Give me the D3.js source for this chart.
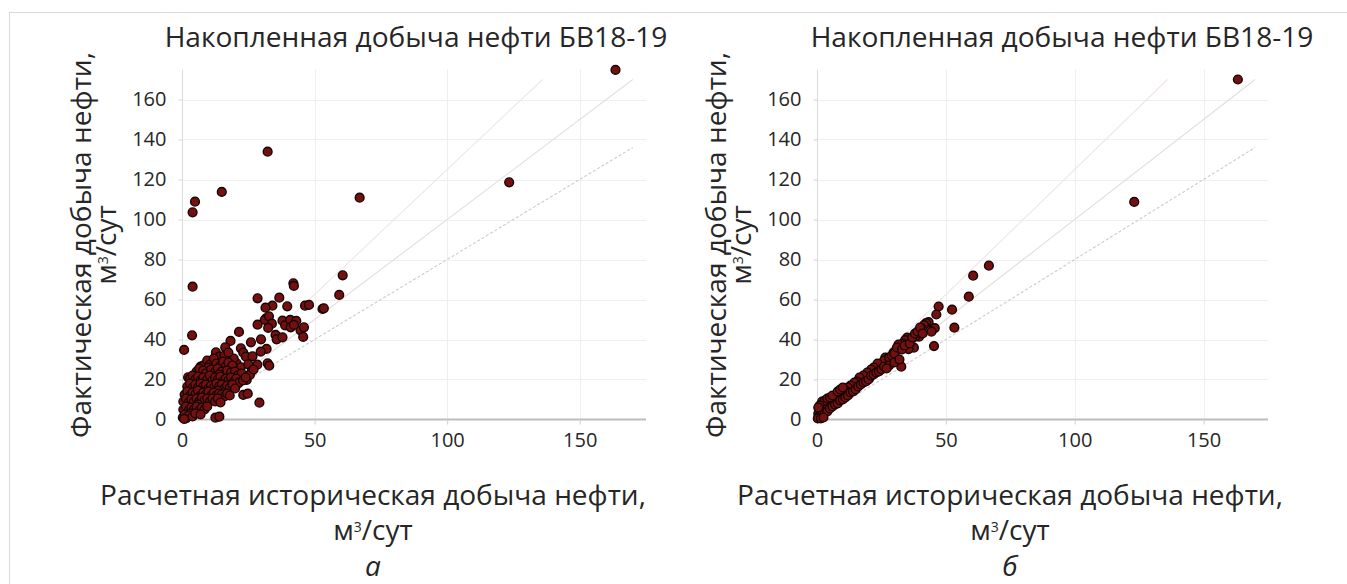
<!DOCTYPE html>
<html>
<head>
<meta charset="utf-8">
<script src="https://cdn.jsdelivr.net/npm/d3@7"></script>
<style>
  body { margin: 0; background: #fff; }
  svg { display: block; }
  text { font-family: "Open Sans", sans-serif; fill: #262626; }
</style>
</head>
<body>
<div id="chart"></div>
<script>
const titleText = "Накопленная добыча нефти БВ18-19";
const xLabelText = "Расчетная историческая добыча нефти,";
const yLabelText = "Фактическая добыча нефти,";
const panelLetters = ["а", "б"];
const xTicks = [0, 50, 100, 150];
const yTicks = [0, 20, 40, 60, 80, 100, 120, 140, 160];

// reference lines y = k*x, drawn from 0 up to endX
const refSlopes = [1.25, 1, 0.8];
const refEndX = [136, 170, 170];

// (a) calculated historical vs actual, m3/day
const wellsA = [
  [163.5,174.8],[123.4,118.6],[67.0,110.9],[32.3,133.9],[15.0,113.8],[4.9,108.9],[4.0,103.6],[4.0,66.4],
  [60.6,72.1],[59.3,62.3],[42.0,68.1],[42.2,66.8],[28.5,60.6],[36.7,60.9],[34.1,56.9],[31.5,55.9],
  [39.7,56.6],[46.4,56.9],[47.9,57.3],[53.0,55.3],[53.5,55.6],[31.7,50.6],[31.2,49.8],[32.8,51.6],
  [33.9,47.9],[28.5,47.4],[32.5,45.8],[37.9,49.4],[38.9,47.1],[40.8,49.8],[41.0,46.1],[43.1,49.3],
  [44.7,44.6],[46.0,46.1],[45.7,41.3],[42.2,47.3],[35.3,42.3],[35.7,40.1],[37.9,41.1],[3.8,42.1],
  [0.8,34.8],[21.5,43.8],[18.3,39.3],[16.3,36.1],[26.0,38.6],[29.8,40.1],[22.2,35.6],[31.9,35.3],
  [29.7,33.9],[12.8,33.6],[11.6,29.8],[14.1,31.4],[7.0,26.4],[8.0,26.9],[23.1,33.4],[24.1,31.4],
  [26.6,31.6],[28.4,27.4],[32.3,28.1],[32.9,26.9],[20.6,28.1],[22.2,26.1],[25.0,27.6],[26.3,24.3],
  [18.1,25.6],[19.2,22.8],[2.3,21.1],[29.2,8.4],[23.1,12.3],[24.8,12.9],[12.6,0.9],[14.1,1.4],
  [24.4,19.8],[21.2,18.1],[25.6,22.3],[27.0,25.0],[19.5,30.5],[16.0,32.0],[17.5,33.5],
  [9.5,29.5],[10.5,27.5],[12.0,30.5],[13.0,28.0],[14.5,27.0],[15.5,29.0],[16.5,26.5],[17.5,28.5],[19.0,27.0],[10.0,26.0],
  [5.5,24.0],[6.5,25.5],[8.0,24.5],[9.0,23.0],[11.0,25.0],[12.5,24.0],[13.5,25.5],[15.0,24.0],[16.0,22.5],[17.0,24.5],
  [18.5,23.5],[20.0,24.0],[21.0,22.0],[22.5,23.0],[14.0,22.5],
  [3.0,20.5],[4.0,22.0],[5.0,20.0],[6.0,21.5],[7.0,19.5],[8.0,21.0],[9.5,20.0],[10.5,22.0],[11.5,19.5],[12.5,21.0],
  [13.5,20.0],[14.5,21.5],[15.5,19.0],[16.5,20.5],[17.5,19.5],[18.5,21.0],[19.5,19.0],[20.5,20.5],[21.5,18.5],[23.0,19.5],[24.0,21.0],
  [2.0,16.5],[3.0,18.0],[4.0,16.0],[5.0,17.5],[6.0,16.0],[7.0,18.0],[8.0,16.5],[9.0,17.5],[10.0,15.5],[11.0,17.0],
  [12.0,16.0],[13.0,18.0],[14.0,16.5],[15.0,17.5],[16.0,15.5],[17.0,17.0],[18.0,16.0],[19.0,17.5],[20.0,15.5],[13.5,14.5],
  [1.0,12.5],[2.0,14.0],[3.0,12.0],[4.0,13.5],[5.0,12.5],[6.0,14.5],[7.0,12.0],[8.0,13.5],[9.0,12.5],[10.0,14.0],
  [11.0,12.0],[12.0,13.5],[13.0,12.0],[14.0,13.0],[15.0,12.5],[16.0,11.5],[17.0,13.0],[18.0,12.0],
  [0.5,9.0],[1.5,10.5],[2.5,8.5],[3.5,10.0],[4.5,9.0],[5.5,10.5],[6.5,9.0],[7.5,11.0],[8.5,9.5],[9.5,10.5],
  [10.5,9.0],[11.5,10.5],[12.5,9.0],[13.5,10.5],[14.5,8.5],[6.0,7.5],
  [0.5,5.0],[1.5,6.5],[2.5,4.5],[3.5,6.0],[4.5,5.0],[5.5,6.5],[6.5,4.5],[7.5,6.0],[8.5,5.0],[9.5,6.5],[3.0,3.0],
  [0.3,1.0],[1.0,2.5],[1.5,0.5],[2.5,2.0],[4.0,1.5],[5.0,3.0],[7.0,2.5],[0.8,0.3]
];

// (b) after adaptation
const wellsB = [
  [163.3,170.0],[123.1,108.8],
  [66.7,76.9],[60.6,71.9],[58.9,61.4],[52.4,54.9],[53.3,45.9],[47.2,56.5],[46.3,52.5],[45.7,45.7],
  [44.4,43.9],[45.4,36.7],[43.3,48.7],[42.3,48.2],[41.5,47.2],[40.7,45.5],[39.6,41.4],[38.1,41.4],
  [36.8,40.5],[35.0,40.9],[34.2,39.7],[37.6,35.9],[35.5,35.2],[33.2,37.9],[31.6,37.5],[31.1,34.7],
  [29.7,33.4],[30.3,31.0],[29.0,29.7],[28.3,28.0],[32.7,26.4],[26.5,31.0],[25.8,28.4],[24.5,27.7],
  [23.2,26.7],[22.6,24.7],[21.3,23.9],[20.0,22.2],[18.7,21.0],[17.4,20.0],[16.1,18.9],[14.8,17.7],
  [13.5,16.4],[12.2,14.7],[10.9,13.0],[9.6,12.2],[8.3,11.4],[7.0,10.0],[5.7,8.9],[4.4,7.7],
  [3.1,6.4],[1.8,4.7],[0.5,3.0],
  [27.5,30.5],[26.0,29.5],[25.0,26.0],[24.0,25.5],[23.5,28.0],[22.0,26.0],[21.0,25.0],[20.5,21.0],
  [19.5,23.5],[19.0,20.0],[18.0,22.0],[17.5,19.0],[16.5,21.0],[16.0,17.5],[15.5,19.0],[15.0,16.5],
  [14.5,18.5],[14.0,15.0],[13.0,17.0],[12.5,13.5],[12.0,16.0],[11.5,12.5],[11.0,14.5],[10.5,11.5],
  [10.0,13.5],[9.5,10.5],[9.0,12.5],[8.5,9.5],[8.0,12.0],[7.5,9.0],[7.0,11.5],[6.5,8.0],
  [6.0,10.5],[5.5,7.0],[5.0,9.5],[4.5,6.0],[4.0,8.5],[3.5,5.0],[3.0,7.5],[2.5,4.0],
  [2.0,6.5],[1.5,3.0],[1.0,5.0],[0.5,1.0],[1.0,1.5],[2.0,2.5],[3.0,3.5],[4.0,4.0],
  [5.0,5.5],[6.0,6.5],[7.0,7.5],[8.0,8.0],[9.0,9.5],[10.0,10.0],[11.0,11.0],[12.0,12.0],
  [13.0,13.5],[14.0,14.0],[15.0,15.0],[16.0,16.5],[17.0,17.5],[18.0,18.5],[19.0,19.0],[20.0,20.0],
  [21.0,22.0],[22.0,22.5],[23.0,23.5],[24.0,24.0],[25.0,25.0],[26.0,26.5],[28.0,31.0],[29.0,32.0],
  [30.0,33.0],[31.0,36.0],[33.0,35.0],[34.0,37.0],[36.0,38.0],[37.0,41.0],[38.0,43.0],[39.0,44.0],
  [40.0,46.0],[41.0,43.0],[28.0,27.0],[30.0,28.5],[32.0,30.0],[27.0,25.5],
  [2.0,9.0],[3.0,9.5],[4.0,10.5],[5.0,11.0],[6.0,12.0],[8.0,14.0],[1.0,7.0],[0.5,6.0],[9.0,15.0],[10.0,16.0],
  [0.3,0.5],[1.5,0.5],[2.5,1.0]
];

const W = 1347, H = 584;
const svg = d3.select("#chart").append("svg").attr("width", W).attr("height", H);

// outer frame
svg.append("rect")
  .attr("x", 9.5).attr("y", 12.5)
  .attr("width", 1360).attr("height", 620)
  .attr("fill", "none").attr("stroke", "#d9d9d9");

const panels = [
  { data: wellsA, x0: 182, x1: 646, titleX: 416, labelX: 373, yLabX: 91 },
  { data: wellsB, x0: 817, x1: 1268, titleX: 1062, labelX: 1010, yLabX: 726 }
];

const yTop = 69.5, yBot = 419.5;
const fontSize = 26;

function fitWidth(sel, target) {
  const len = sel.node().getComputedTextLength();
  const fs = parseFloat(sel.attr("font-size"));
  sel.attr("font-size", fs * target / len);
}

// "м³/сут" with a small raised 3
function unitLabel(sel) {
  sel.append("tspan").text("м");
  sel.append("tspan").attr("font-size", "0.5em").attr("dy", "-0.55em").text("3");
  sel.append("tspan").attr("dy", "0.28em").text("/сут");
}

panels.forEach((p, i) => {
  const x = d3.scaleLinear().domain([0, 175]).range([p.x0, p.x1]);
  const y = d3.scaleLinear().domain([0, 175]).range([yBot, yTop]);
  const g = svg.append("g");

  // grid
  g.append("g").selectAll("line").data(yTicks.filter(d => d > 0)).join("line")
    .attr("x1", x(0)).attr("x2", x(175))
    .attr("y1", d => Math.round(y(d)) + 0.5).attr("y2", d => Math.round(y(d)) + 0.5)
    .attr("stroke", "#efefef");
  g.append("g").selectAll("line").data(xTicks.filter(d => d > 0)).join("line")
    .attr("x1", d => Math.round(x(d)) + 0.5).attr("x2", d => Math.round(x(d)) + 0.5)
    .attr("y1", y(0)).attr("y2", y(175))
    .attr("stroke", "#efefef");

  // axes
  const yAxis = g.append("g")
    .attr("transform", `translate(${Math.round(x(0)) + 0.5},0)`)
    .call(d3.axisLeft(y).tickValues(yTicks).tickSize(4).tickPadding(12));
  yAxis.select(".domain").attr("stroke", "#dadada").attr("d", `M0,${y(0)}V${y(175)}`);
  yAxis.selectAll(".tick line").attr("stroke", "#d6d6d6");
  yAxis.selectAll(".tick text").attr("font-size", 20).attr("fill", "#333")
    .style("font-family", "'Open Sans', sans-serif");

  const xAxis = g.append("g")
    .attr("transform", `translate(0,${y(0)})`)
    .call(d3.axisBottom(x).tickValues(xTicks).tickSize(5).tickPadding(8));
  xAxis.select(".domain").attr("stroke", "#bdbdbd").attr("stroke-width", 2)
    .attr("d", `M${x(0)},0H${x(175)}`);
  xAxis.selectAll(".tick line").attr("stroke", "#cfcfcf");
  xAxis.selectAll(".tick text").attr("font-size", 20).attr("fill", "#333")
    .style("font-family", "'Open Sans', sans-serif");

  // reference lines
  const refColors = ["#f0e6e6", "#e6dddd", "#cccccc"];
  g.append("g").selectAll("line").data(refSlopes).join("line")
    .attr("x1", x(0)).attr("y1", y(0))
    .attr("x2", (k, j) => x(refEndX[j])).attr("y2", (k, j) => y(k * refEndX[j]))
    .attr("stroke", (k, j) => refColors[j])
    .attr("stroke-width", 1.1)
    .attr("stroke-dasharray", (k, j) => j === 2 ? "3,2" : null);

  // points
  g.append("g").selectAll("circle").data(p.data).join("circle")
    .attr("cx", d => x(d[0])).attr("cy", d => y(d[1]))
    .attr("r", 4.4)
    .attr("fill", "#741010")
    .attr("stroke", "#160505")
    .attr("stroke-width", 1.4);

  // title
  const t = svg.append("text")
    .attr("x", p.titleX).attr("y", 47)
    .attr("text-anchor", "middle").attr("font-size", fontSize)
    .text(titleText);
  fitWidth(t, 503);

  // x label
  const xl = svg.append("text")
    .attr("x", p.labelX).attr("y", 505)
    .attr("text-anchor", "middle").attr("font-size", fontSize)
    .text(xLabelText);
  fitWidth(xl, 546);
  const xu = svg.append("text")
    .attr("x", p.labelX).attr("y", 540)
    .attr("text-anchor", "middle").attr("font-size", xl.attr("font-size"));
  unitLabel(xu);

  svg.append("text")
    .attr("x", p.labelX).attr("y", 576)
    .attr("text-anchor", "middle").attr("font-size", xl.attr("font-size"))
    .attr("font-style", "italic")
    .text(panelLetters[i]);

  // y label (rotated)
  const cy = 245;
  const yl = svg.append("text")
    .attr("transform", `translate(${p.yLabX},${cy}) rotate(-90)`)
    .attr("text-anchor", "middle").attr("font-size", fontSize)
    .text(yLabelText);
  fitWidth(yl, 386);
  const yu = svg.append("text")
    .attr("transform", `translate(${p.yLabX + 25},${cy}) rotate(-90)`)
    .attr("text-anchor", "middle").attr("font-size", yl.attr("font-size"));
  unitLabel(yu);
});
</script>
</body>
</html>
